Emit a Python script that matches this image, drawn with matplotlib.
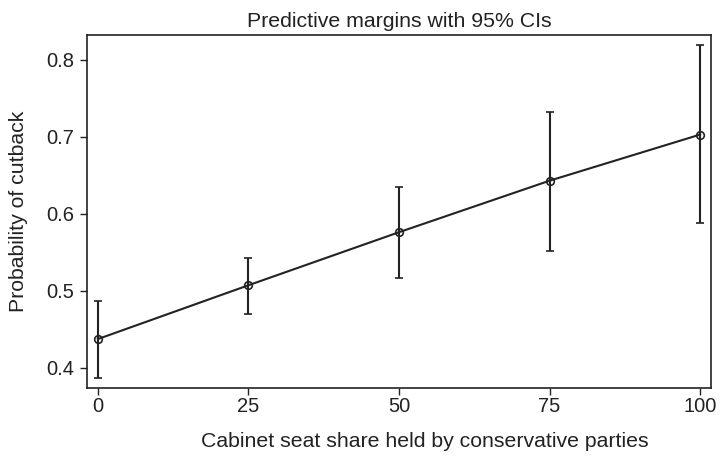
import matplotlib
matplotlib.use('Agg')
from matplotlib import pyplot as plt
import numpy as np

# data
seat_share = [0, 25, 50, 75, 100]
margin = [0.437, 0.507, 0.576, 0.643, 0.703]
ci_low = [0.387, 0.470, 0.517, 0.552, 0.588]
ci_high = [0.486, 0.542, 0.635, 0.732, 0.819]

x_ticks = [0, 25, 50, 75, 100]
y_ticks = [0.4, 0.5, 0.6, 0.7, 0.8]

plt.rcParams['font.family'] = ['Liberation Sans', 'DejaVu Sans']

col = '#222222'

fig = plt.figure(figsize=(7.22, 4.58), dpi=100)
ax = fig.add_axes([0.1205, 0.1539, 0.8643, 0.7697])

margin = np.array(margin)
yerr = [margin - np.array(ci_low), np.array(ci_high) - margin]

# line with hollow markers and capped error bars
ax.errorbar(seat_share, margin, yerr=yerr, color=col, lw=1.5, elinewidth=1.5,
            capsize=3.2, capthick=1.5, marker='o', ms=5.5, mfc='none', mec=col, mew=1.2)

ax.set_xlim(-1.8, 101.8)
ax.set_ylim(0.374, 0.8325)
ax.set_xticks(x_ticks)
ax.set_yticks(y_ticks)
ax.set_yticklabels(['%.1f' % v for v in y_ticks])

ax.tick_params(direction='out', length=5, width=1, color=col, labelsize=14.5, labelcolor=col, pad=4)
ax.tick_params(axis='x', pad=2)
for s in ax.spines.values():
    s.set_color(col)
    s.set_linewidth(1.2)

ax.set_title('Predictive margins with 95% CIs', fontsize=15.3, color=col, pad=6)
ax.set_xlabel('Cabinet seat share held by conservative parties', fontsize=15.3, color=col)
ax.xaxis.set_label_coords(0.5417, -0.125)
ax.set_ylabel('Probability of cutback', fontsize=15.3, color=col, labelpad=13)

plt.savefig('out.png', dpi=100)
